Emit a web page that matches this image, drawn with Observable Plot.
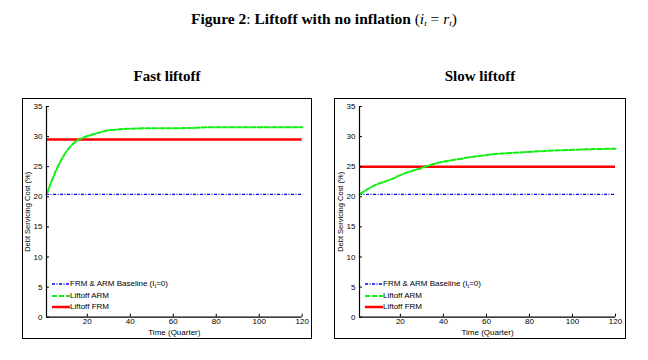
<!DOCTYPE html>
<html>
<head>
<meta charset="utf-8">
<script src="https://cdn.jsdelivr.net/npm/d3@7"></script>
<script src="https://cdn.jsdelivr.net/npm/@observablehq/plot@0.6"></script>
<style>
  body { margin: 0; background: #fff; }
  #fig { position: relative; width: 648px; height: 360px; background: #fff; overflow: hidden; }
  .title { position: absolute; left: 0; width: 648px; text-align: center; font-family: "Liberation Serif", "Times New Roman", serif; color: #000; }
  .ptitle { position: absolute; text-align: center; font-family: "Liberation Serif", "Times New Roman", serif; font-weight: bold; font-size: 15px; color: #000; }
  .panel { position: absolute; }
  .panel svg { position: absolute; left: 0; top: 0; }
  .frame { position: absolute; left: 0; top: 0; right: 0; bottom: 0; border: 1px solid #000; pointer-events: none; }
  .leg { position: absolute; font-family: "Liberation Sans", Arial, sans-serif; font-size: 8px; color: #000; white-space: nowrap; line-height: 10px; }
  .leg svg { position: absolute; left: 0; top: 0; }
  .leg span.t { position: absolute; left: 18px; top: 0; }
  .leg sub { font-size: 6px; vertical-align: -2px; line-height: 0; }
</style>
</head>
<body>
<div id="fig"></div>
<script>
// ---------- data ----------
const xTicks = [20, 40, 60, 80, 100, 120];
const yTicks = [0, 5, 10, 15, 20, 25, 30, 35];
const panelTitles = ["Fast liftoff", "Slow liftoff"];
const yLabel = "Debt Servicing Cost (%)";
const xLabel = "Time (Quarter)";
const seriesNames = ["FRM & ARM Baseline (I", "Liftoff ARM", "Liftoff FRM"];

const baselineValue = 20.4;

const fastQuarters = [1, 2, 3, 4, 5, 6, 8, 10, 12, 14, 16, 18, 20, 22, 25, 29, 33, 36, 40, 50, 60, 70, 75, 90, 105, 120];
const fastARM = [20.4, 21.3, 22.3, 23.1, 24.0, 24.8, 26.2, 27.4, 28.3, 29.0, 29.5, 29.8, 30.1, 30.3, 30.6, 31.0, 31.15, 31.25, 31.3, 31.4, 31.4, 31.45, 31.55, 31.55, 31.55, 31.55];
const fastFRM = 29.5;

const slowQuarters = [1, 8, 15, 22, 30, 36, 46, 55, 64, 77, 92, 108, 120];
const slowARM = [20.4, 21.9, 22.8, 23.9, 24.8, 25.5, 26.2, 26.7, 27.1, 27.4, 27.7, 27.9, 28.0];
const slowFRM = 25.0;

// ---------- colours / styles ----------
const C_BASE = "#0000ff", C_ARM = "#11ee11", C_FRM = "#ff0000";
const DASH_BASE = "3,1.5,1,1.5", DASH_ARM = "5,2";

const fig = document.getElementById("fig");

const title = document.createElement("div");
title.className = "title";
title.style.top = "10px";
title.style.fontSize = "15.5px";
title.innerHTML = '<b>Figure 2</b>: <b>Liftoff with no inflation</b> (<i>i<sub style="font-size:9px;vertical-align:-2px">t</sub></i> = <i>r<sub style="font-size:9px;vertical-align:-2px">t</sub></i>)';
fig.appendChild(title);

const panels = [
  {left: 22, width: 290, mL: 24, mR: 10.3, quarters: fastQuarters, arm: fastARM, frm: fastFRM, title: panelTitles[0]},
  {left: 334, width: 292, mL: 25, mR: 11, quarters: slowQuarters, arm: slowARM, frm: slowFRM, title: panelTitles[1]}
];

for (const p of panels) {
  const top = 98, height = 241;
  const t = document.createElement("div");
  t.className = "ptitle";
  t.style.left = p.left + "px";
  t.style.width = p.width + "px";
  t.style.top = "68px";
  t.textContent = p.title;
  fig.appendChild(t);

  const div = document.createElement("div");
  div.className = "panel";
  div.style.left = p.left + "px";
  div.style.top = top + "px";
  div.style.width = p.width + "px";
  div.style.height = height + "px";
  fig.appendChild(div);

  const armData = p.quarters.map((q, i) => ({q, v: p.arm[i]}));

  const chart = Plot.plot({
    width: p.width,
    height: height,
    marginLeft: p.mL,
    marginRight: p.mR,
    marginTop: 8,
    marginBottom: 22.3,
    x: {domain: [1, 120]},
    y: {domain: [0, 35]},
    style: {fontFamily: "'Liberation Sans', Arial, sans-serif", fontSize: "8px", color: "#000", background: "transparent", overflow: "visible"},
    marks: [
      Plot.ruleY([baselineValue], {stroke: C_BASE, strokeWidth: 1.3, strokeDasharray: DASH_BASE}),
      Plot.ruleY([p.frm], {stroke: C_FRM, strokeWidth: 2.5}),
      Plot.line(armData, {x: "q", y: "v", stroke: C_ARM, strokeWidth: 2, strokeDasharray: DASH_ARM, curve: "monotone-x"}),
      Plot.ruleX([1], {stroke: "#000", strokeWidth: 1.2}),
      Plot.ruleY([0], {stroke: "#000", strokeWidth: 1.2}),
      Plot.axisY({ticks: yTicks, tickSize: -3, tickPadding: 7, label: null}),
      Plot.axisX({ticks: xTicks, tickSize: -3, tickPadding: 4, label: null}),
      Plot.text([yLabel], {frameAnchor: "left", textAnchor: "middle", rotate: -90, dx: -19, fontSize: 7.5, lineAnchor: "middle"}),
      Plot.text([xLabel], {frameAnchor: "bottom", textAnchor: "middle", dy: 15, fontSize: 8, lineAnchor: "middle"})
    ]
  });
  div.appendChild(chart);

  const frame = document.createElement("div");
  frame.className = "frame";
  div.appendChild(frame);

  // legend
  const legX = p.mL + 6;
  const items = [
    {y: 186, color: C_BASE, dash: DASH_BASE, w: 1.3, html: seriesNames[0] + "<sub>t</sub>=0)"},
    {y: 198, color: C_ARM, dash: DASH_ARM, w: 2, html: seriesNames[1]},
    {y: 209, color: C_FRM, dash: null, w: 2.5, html: seriesNames[2]}
  ];
  for (const it of items) {
    const lg = document.createElement("div");
    lg.className = "leg";
    lg.style.left = legX + "px";
    lg.style.top = (it.y - 5) + "px";
    lg.innerHTML = `<svg width="18" height="10"><line x1="0" x2="18" y1="5" y2="5" stroke="${it.color}" stroke-width="${it.w}" ${it.dash ? `stroke-dasharray="${it.dash}"` : ""}/></svg><span class="t">${it.html}</span>`;
    div.appendChild(lg);
  }
}
</script>
</body>
</html>
